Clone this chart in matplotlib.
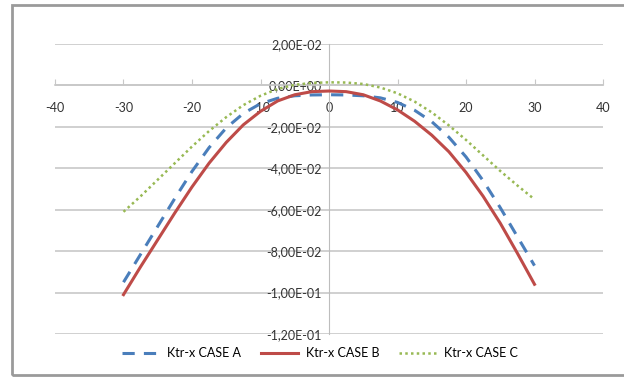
import matplotlib
matplotlib.use("Agg")
import matplotlib.pyplot as plt
from matplotlib.patches import Rectangle
from matplotlib.ticker import FuncFormatter

plt.rcParams['font.family'] = ['Lato', 'DejaVu Sans']
plt.rcParams['axes.unicode_minus'] = False

# positions along x (read every 2.5 units)
x = [-30, -27.5, -25, -22.5, -20, -17.5, -15, -12.5, -10, -7.5, -5, -2.5, 0,
     2.5, 5, 7.5, 10, 12.5, 15, 17.5, 20, 22.5, 25, 27.5, 30]

case_a = [-0.095, -0.0815, -0.068, -0.0545, -0.0415, -0.030, -0.0205, -0.0135, -0.0088,
          -0.0062, -0.005, -0.0046, -0.0045, -0.0046, -0.005, -0.006, -0.0082, -0.012,
          -0.0175, -0.025, -0.0345, -0.046, -0.059, -0.073, -0.087]
case_b = [-0.101, -0.0875, -0.0745, -0.0615, -0.049, -0.0375, -0.0275, -0.019, -0.0125,
          -0.0075, -0.0045, -0.003, -0.0027, -0.003, -0.0045, -0.0075, -0.0118, -0.0173,
          -0.024, -0.032, -0.042, -0.0535, -0.0665, -0.081, -0.096]
case_c = [-0.061, -0.0535, -0.0455, -0.0375, -0.0295, -0.022, -0.0153, -0.0095, -0.005,
          -0.0017, 0.0003, 0.0012, 0.0015, 0.0014, 0.0007, -0.001, -0.0038, -0.0078,
          -0.013, -0.0193, -0.0263, -0.0338, -0.0413, -0.0483, -0.055]

labels = ['Ktr-x CASE A', 'Ktr-x CASE B', 'Ktr-x CASE C']
xticks = [-40, -30, -20, -10, 0, 10, 20, 30, 40]
yticks = [0.02, 0.0, -0.02, -0.04, -0.06, -0.08, -0.10, -0.12]

W, H = 624, 379
fig = plt.figure(figsize=(W / 100, H / 100), dpi=100)
ax = fig.add_axes([55 / W, 1 - 334 / H, 548 / W, 290 / H])

for yv in yticks:
    ax.axhline(yv, color='#c8c8c8', lw=1.2, zorder=0)

la, = ax.plot(x, case_a, color='#4a7ebb', lw=2.2, dashes=(4, 3), zorder=3,
              solid_joinstyle='round')
lb, = ax.plot(x, case_b, color='#be4b48', lw=2.2, zorder=3, solid_joinstyle='round')
lc, = ax.plot(x, case_c, color='#98b954', lw=1.8, linestyle=(0, (1, 1.3)),
              dash_capstyle='butt', zorder=3)

ax.set_xlim(-40, 40)
ax.set_ylim(-0.12, 0.02)
ax.set_xticks(xticks)
ax.set_yticks(yticks)
ax.yaxis.set_major_formatter(FuncFormatter(lambda v, p: f"{v:.2E}".replace('.', ',').replace('-0,00', '0,00')))

for s in ['top', 'right']:
    ax.spines[s].set_visible(False)
ax.spines['left'].set_position(('data', 0))
ax.spines['bottom'].set_position(('data', 0))
ax.spines['left'].set_color('#bdbdbd')
ax.spines['bottom'].set_color('#c8c8c8')
ax.spines['bottom'].set_linewidth(1.2)
ax.tick_params(axis='x', direction='in', length=4, color='#c8c8c8', pad=12,
               labelsize=9, labelcolor='#333333')
ax.tick_params(axis='y', length=0, pad=5, labelsize=9, labelcolor='#333333')

fig.legend([la, lb, lc], labels, loc='center', bbox_to_anchor=(320 / W, 1 - 353 / H),
           ncol=3, frameon=False, fontsize=9, handlelength=3.0, columnspacing=1.6,
           handletextpad=0.6)

fig.patches.append(Rectangle((12 / W, 4 / H), 1.2, 1 - 9 / H, transform=fig.transFigure,
                             fill=False, edgecolor='#9a9a9a', lw=2))

fig.savefig('out.png', dpi=100)
